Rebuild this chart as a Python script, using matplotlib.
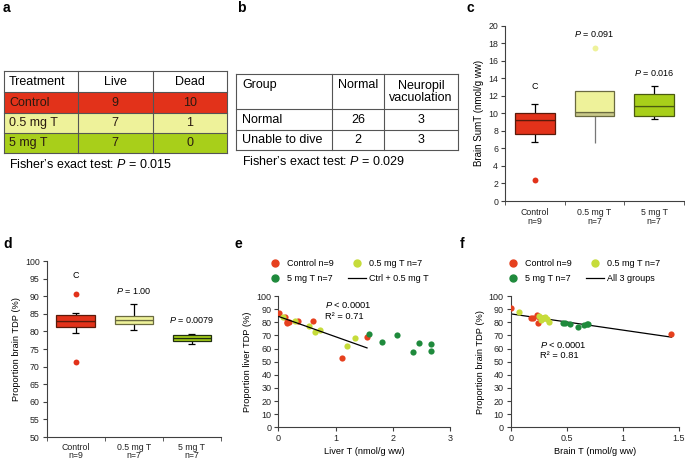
import numpy as np
import matplotlib
matplotlib.use('Agg')
import matplotlib.pyplot as plt
from matplotlib.patches import Rectangle
from matplotlib.lines import Line2D

plt.rcParams.update({
    'font.family': ['Liberation Sans', 'DejaVu Sans'],
    'mathtext.fontset': 'custom',
    'mathtext.it': 'Liberation Sans:italic',
    'mathtext.rm': 'Liberation Sans',
    'axes.linewidth': 0.8,
    'axes.edgecolor': '#404040',
    'xtick.color': '#404040',
    'ytick.color': '#404040',
    'xtick.labelcolor': '#222222',
    'ytick.labelcolor': '#222222',
})

W, H = 685, 461

# ---- data -------------------------------------------------------------
treat_header = ['Treatment', 'Live', 'Dead']
treat_rows = ['Control', '0.5 mg T', '5 mg T']
treat_live = [9, 7, 7]
treat_dead = [10, 1, 0]

group_header = ['Group', 'Normal', 'Neuropil\nvacuolation']
group_rows = ['Normal', 'Unable to dive']
group_normal = [26, 2]
group_vacuol = [3, 3]

box_labels = ['Control\nn=9', '0.5 mg T\nn=7', '5 mg T\nn=7']

c_q1 = [7.64, 9.74, 9.74]
c_med = [9.2, 10.1, 10.84]
c_q3 = [10.04, 12.5, 12.2]
c_lo = [6.73, 6.58, 9.36]
c_hi = [11.07, 12.5, 13.08]
c_out = [[2.36], [17.4], []]
c_notes = ['C', '$P$ = 0.091', '$P$ = 0.016']
c_note_y = [13.1, 19.0, 14.6]

d_q1 = [81.2, 82.0, 77.2]
d_med = [83.0, 83.3, 78.0]
d_q3 = [84.6, 84.5, 78.9]
d_lo = [79.6, 80.4, 76.5]
d_hi = [85.1, 87.7, 79.4]
d_out = [[90.5, 71.2], [], []]
d_notes = ['C', '$P$ = 1.00', '$P$ = 0.0079']
d_note_y = [95.8, 91.6, 83.1]

e_ctrl_x = [0.01, 0.12, 0.146, 0.16, 0.186, 0.35, 0.61, 1.107, 1.55]
e_ctrl_y = [87.3, 83.7, 79.1, 80.5, 79.9, 80.9, 80.7, 52.4, 68.4]
e_half_x = [0.087, 0.29, 0.54, 0.64, 0.72, 1.205, 1.34]
e_half_y = [84.2, 80.9, 77.4, 72.3, 73.8, 62.3, 67.7]
e_high_x = [1.59, 1.82, 2.07, 2.36, 2.45, 2.66, 2.66]
e_high_y = [71.2, 65.1, 70.2, 57.3, 64.4, 63.1, 58.0]

f_ctrl_x = [0.0, 0.18, 0.20, 0.235, 0.244, 0.255, 0.27, 0.29, 1.433]
f_ctrl_y = [90.6, 83.5, 83.0, 85.5, 79.6, 84.0, 82.5, 83.5, 71.0]
f_half_x = [0.073, 0.25, 0.27, 0.29, 0.31, 0.32, 0.34]
f_half_y = [87.5, 84.5, 81.5, 83.0, 84.0, 82.5, 80.0]
f_high_x = [0.464, 0.485, 0.53, 0.596, 0.655, 0.678, 0.693]
f_high_y = [79.1, 79.6, 78.6, 76.6, 77.9, 78.4, 78.6]

RED = '#e2321a'
PALE = '#eef29a'
LIME = '#a8cf1a'
S_RED = '#e6401e'
S_LIME = '#c6dc3a'
S_GREEN = '#1f8a3c'


def rect(l, t, r, b):
    return [l / W, 1 - b / H, (r - l) / W, (b - t) / H]


fig = plt.figure(figsize=(W / 100, H / 100), dpi=100)

# overlay for tables and panel letters (pixel coords)
ov = fig.add_axes([0, 0, 1, 1])
ov.set_xlim(0, W)
ov.set_ylim(H, 0)
ov.axis('off')

for lab, x, y in [('a', 3, 8), ('b', 237, 8), ('c', 467, 8),
                  ('d', 3, 244), ('e', 235, 244), ('f', 460, 244)]:
    ov.text(x, y, lab, fontsize=10, fontweight='bold', ha='left', va='center')

tc = '#555555'
TFS = 9
# table a
ax_cols = [4, 78, 153, 227]
ax_rows = [71, 92, 113, 133, 153]
fills = [RED, PALE, LIME]
for i in range(3):
    ov.add_patch(Rectangle((ax_cols[0], ax_rows[i + 1]), ax_cols[-1] - ax_cols[0],
                           ax_rows[i + 2] - ax_rows[i + 1], facecolor=fills[i], edgecolor='none'))
for y in ax_rows:
    ov.plot([ax_cols[0], ax_cols[-1]], [y, y], color=tc, lw=0.8)
for x in ax_cols:
    ov.plot([x, x], [ax_rows[0], ax_rows[-1]], color=tc, lw=0.8)
ov.text(9, 82, treat_header[0], fontsize=TFS, va='center', ha='left')
ov.text(115, 82, treat_header[1], fontsize=TFS, va='center', ha='center')
ov.text(190, 82, treat_header[2], fontsize=TFS, va='center', ha='center')
for i, name in enumerate(treat_rows):
    yc = (ax_rows[i + 1] + ax_rows[i + 2]) / 2
    ov.text(9, yc, name, fontsize=TFS, va='center', ha='left', color='#2a1a10')
    ov.text(115, yc, str(treat_live[i]), fontsize=TFS, va='center', ha='center', color='#2a1a10')
    ov.text(190, yc, str(treat_dead[i]), fontsize=TFS, va='center', ha='center', color='#2a1a10')
ov.text(9, 164, "Fisher\u2019s exact test: $P$ = 0.015", fontsize=TFS, va='center', ha='left')

# table b
bx_cols = [236, 332, 384, 458]
bx_rows = [74, 109, 130, 150]
for y in bx_rows:
    ov.plot([bx_cols[0], bx_cols[-1]], [y, y], color=tc, lw=0.8)
for x in bx_cols:
    ov.plot([x, x], [bx_rows[0], bx_rows[-1]], color=tc, lw=0.8)
ov.text(242, 85, group_header[0], fontsize=TFS, va='center', ha='left')
ov.text(358, 85, group_header[1], fontsize=TFS, va='center', ha='center')
ov.text(421, 92, group_header[2], fontsize=TFS, va='center', ha='center', linespacing=1.05)
for i, name in enumerate(group_rows):
    yc = (bx_rows[i + 1] + bx_rows[i + 2]) / 2
    ov.text(242, yc, name, fontsize=TFS, va='center', ha='left')
    ov.text(358, yc, str(group_normal[i]), fontsize=TFS, va='center', ha='center')
    ov.text(421, yc, str(group_vacuol[i]), fontsize=TFS, va='center', ha='center')
ov.text(242, 161, "Fisher\u2019s exact test: $P$ = 0.029", fontsize=TFS, va='center', ha='left')


def style_box_axes(ax, pad):
    for s in ['top', 'right']:
        ax.spines[s].set_visible(False)
    ax.set_xlim(0.5, 3.5)
    ax.set_xticks([1, 2, 3])
    ax.set_xticklabels(box_labels, fontsize=6.3, linespacing=0.95)
    ax.set_xticks([0.5, 1.5, 2.5, 3.5], minor=True)
    ax.tick_params(axis='x', which='major', length=0, pad=pad)
    ax.tick_params(axis='x', which='minor', length=3, direction='out')
    ax.tick_params(axis='y', labelsize=6.3, length=3, direction='out', pad=2)


def draw_boxes(ax, q1, med, q3, lo, hi, out, lower_fill, upper_fill, edges, whisk, capw=0.12, w=0.66):
    x = np.arange(1, 4)
    ax.bar(x, np.array(med) - np.array(q1), bottom=q1, width=w, color=lower_fill,
           edgecolor=edges, linewidth=0.9, zorder=3)
    ax.bar(x, np.array(q3) - np.array(med), bottom=med, width=w, color=upper_fill,
           edgecolor=edges, linewidth=0.9, zorder=3)
    for i in range(3):
        ax.vlines(x[i], lo[i], q1[i], color=whisk[i], lw=0.9, zorder=2)
        ax.vlines(x[i], q3[i], hi[i], color=whisk[i], lw=0.9, zorder=2)
        if whisk[i] == 'black':
            ax.hlines([lo[i], hi[i]], x[i] - capw / 2, x[i] + capw / 2, color='black', lw=0.9, zorder=2)
        if out[i]:
            ax.scatter([x[i]] * len(out[i]), out[i], s=18, color=upper_fill[i], zorder=4, linewidths=0)


# panel c
axc = fig.add_axes(rect(505, 25.7, 684, 201))
style_box_axes(axc, 5)
axc.set_ylim(0, 20)
axc.set_yticks(np.arange(0, 21, 2))
axc.set_ylabel('Brain SumT (nmol/g ww)', fontsize=7, labelpad=3)
draw_boxes(axc, c_q1, c_med, c_q3, c_lo, c_hi, c_out,
           [RED, '#c9c98a', LIME], [RED, PALE, LIME],
           ['#5a1a0a', '#6a6a40', '#4a5a10'], ['black', '#777777', 'black'])
for i in range(3):
    axc.text(i + 1, c_note_y[i], c_notes[i], fontsize=6.5, ha='center', va='center')

# panel d
axd = fig.add_axes(rect(46.5, 261, 221, 437))
style_box_axes(axd, 4)
axd.set_ylim(50, 100)
axd.set_yticks(np.arange(50, 101, 5))
axd.set_ylabel('Proportion brain TDP (%)', fontsize=6.7, labelpad=3)
draw_boxes(axd, d_q1, d_med, d_q3, d_lo, d_hi, d_out,
           [RED, PALE, LIME], [RED, PALE, LIME],
           ['#5a1a0a', '#6a6a40', '#203010'], ['black', 'black', 'black'])
for i in range(3):
    axd.text(i + 1, d_note_y[i], d_notes[i], fontsize=6.5, ha='center', va='center')


def style_scatter_axes(ax):
    for s in ['top', 'right']:
        ax.spines[s].set_visible(False)
    ax.set_ylim(0, 100)
    ax.set_yticks(np.arange(0, 101, 10))
    ax.tick_params(labelsize=6.5, length=3, direction='out', pad=2)


def legend_for(ax, line_label, anchor):
    hs = [Line2D([], [], marker='o', ls='', color=S_RED, markersize=5),
          Line2D([], [], marker='o', ls='', color=S_GREEN, markersize=5),
          Line2D([], [], marker='o', ls='', color=S_LIME, markersize=5),
          Line2D([], [], color='black', lw=0.9)]
    labs = ['Control n=9', '5 mg T n=7', '0.5 mg T n=7', line_label]
    ax.legend(hs, labs, ncol=2, fontsize=6.5, frameon=False, loc='center left',
              bbox_to_anchor=anchor, bbox_transform=fig.transFigure,
              handlelength=2.0, handletextpad=0.3, columnspacing=1.6,
              labelspacing=0.6, borderpad=0, borderaxespad=0)


# panel e
axe = fig.add_axes(rect(278.3, 296, 450, 427.3))
style_scatter_axes(axe)
axe.set_xlim(0, 3)
axe.set_xticks([0, 1, 2, 3])
axe.set_ylabel('Proportion liver TDP (%)', fontsize=6.7, labelpad=3)
axe.set_xlabel('Liver T (nmol/g ww)', fontsize=6.7, labelpad=3)
axe.scatter(e_ctrl_x, e_ctrl_y, s=20, color=S_RED, linewidths=0, zorder=3)
axe.scatter(e_half_x, e_half_y, s=20, color=S_LIME, linewidths=0, zorder=3)
axe.scatter(e_high_x, e_high_y, s=20, color=S_GREEN, linewidths=0, zorder=3)
ex = np.array(e_ctrl_x + e_half_x)
ey = np.array(e_ctrl_y + e_half_y)
k, b0 = np.polyfit(ex, ey, 1)
xx = np.array([ex.min(), ex.max()])
axe.plot(xx, k * xx + b0, color='black', lw=0.9, zorder=4)
axe.text(0.82, 89, '$P$ < 0.0001\nR\u00b2 = 0.71', fontsize=6.7, ha='left', va='center', linespacing=1.2)
legend_for(axe, 'Ctrl + 0.5 mg T', (266 / W, 1 - 271 / H))

# panel f
axf = fig.add_axes(rect(510.7, 296, 679, 427.3))
style_scatter_axes(axf)
axf.set_xlim(0, 1.5)
axf.set_xticks([0, 0.5, 1, 1.5])
axf.set_xticklabels(['0', '0.5', '1', '1.5'])
axf.set_ylabel('Proportion brain TDP (%)', fontsize=6.7, labelpad=3)
axf.set_xlabel('Brain T (nmol/g ww)', fontsize=6.7, labelpad=3)
axf.scatter(f_ctrl_x, f_ctrl_y, s=20, color=S_RED, linewidths=0, zorder=3)
axf.scatter(f_half_x, f_half_y, s=20, color=S_LIME, linewidths=0, zorder=3)
axf.scatter(f_high_x, f_high_y, s=20, color=S_GREEN, linewidths=0, zorder=3)
fx = np.array(f_ctrl_x + f_half_x + f_high_x)
fy = np.array(f_ctrl_y + f_half_y + f_high_y)
k2, b2 = np.polyfit(fx, fy, 1)
xx2 = np.array([fx.min(), fx.max()])
axf.plot(xx2, k2 * xx2 + b2, color='black', lw=0.9, zorder=2)
axf.text(0.26, 59, '$P$ < 0.0001\nR\u00b2 = 0.81', fontsize=6.7, ha='left', va='center', linespacing=1.2)
legend_for(axf, 'All 3 groups', (504 / W, 1 - 271 / H))

fig.savefig('out.png', dpi=100)
